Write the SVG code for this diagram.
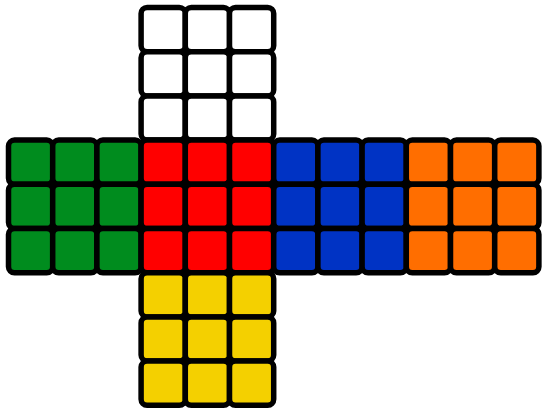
<svg xmlns="http://www.w3.org/2000/svg" width="542" height="410" viewBox="0 0 542 410">
<style>
rect.c{stroke:#000;stroke-width:5.5;}
.w rect{fill:#ffffff}
.g rect{fill:#008c1e}
.r rect{fill:#ff0000}
.b rect{fill:#0033c4}
.o rect{fill:#ff6e00}
.y rect{fill:#f4d000}
</style>
<rect width="542" height="410" fill="#fff"/>
<g id="top" class="w" transform="translate(141.1,7.5)">
<rect class="c" x="0" y="0" width="44.2" height="44.2" rx="6"/><rect class="c" x="44.2" y="0" width="44.2" height="44.2" rx="6"/><rect class="c" x="88.4" y="0" width="44.2" height="44.2" rx="6"/>
<rect class="c" x="0" y="44.2" width="44.2" height="44.2" rx="6"/><rect class="c" x="44.2" y="44.2" width="44.2" height="44.2" rx="6"/><rect class="c" x="88.4" y="44.2" width="44.2" height="44.2" rx="6"/>
<rect class="c" x="0" y="88.4" width="44.2" height="44.2" rx="6"/><rect class="c" x="44.2" y="88.4" width="44.2" height="44.2" rx="6"/><rect class="c" x="88.4" y="88.4" width="44.2" height="44.2" rx="6"/>
</g>
<g id="left" class="g" transform="translate(8.5,140.1)">
<rect class="c" x="0" y="0" width="44.2" height="44.2" rx="6"/><rect class="c" x="44.2" y="0" width="44.2" height="44.2" rx="6"/><rect class="c" x="88.4" y="0" width="44.2" height="44.2" rx="6"/>
<rect class="c" x="0" y="44.2" width="44.2" height="44.2" rx="6"/><rect class="c" x="44.2" y="44.2" width="44.2" height="44.2" rx="6"/><rect class="c" x="88.4" y="44.2" width="44.2" height="44.2" rx="6"/>
<rect class="c" x="0" y="88.4" width="44.2" height="44.2" rx="6"/><rect class="c" x="44.2" y="88.4" width="44.2" height="44.2" rx="6"/><rect class="c" x="88.4" y="88.4" width="44.2" height="44.2" rx="6"/>
</g>
<g id="front" class="r" transform="translate(141.1,140.1)">
<rect class="c" x="0" y="0" width="44.2" height="44.2" rx="6"/><rect class="c" x="44.2" y="0" width="44.2" height="44.2" rx="6"/><rect class="c" x="88.4" y="0" width="44.2" height="44.2" rx="6"/>
<rect class="c" x="0" y="44.2" width="44.2" height="44.2" rx="6"/><rect class="c" x="44.2" y="44.2" width="44.2" height="44.2" rx="6"/><rect class="c" x="88.4" y="44.2" width="44.2" height="44.2" rx="6"/>
<rect class="c" x="0" y="88.4" width="44.2" height="44.2" rx="6"/><rect class="c" x="44.2" y="88.4" width="44.2" height="44.2" rx="6"/><rect class="c" x="88.4" y="88.4" width="44.2" height="44.2" rx="6"/>
</g>
<g id="right" class="b" transform="translate(273.7,140.1)">
<rect class="c" x="0" y="0" width="44.2" height="44.2" rx="6"/><rect class="c" x="44.2" y="0" width="44.2" height="44.2" rx="6"/><rect class="c" x="88.4" y="0" width="44.2" height="44.2" rx="6"/>
<rect class="c" x="0" y="44.2" width="44.2" height="44.2" rx="6"/><rect class="c" x="44.2" y="44.2" width="44.2" height="44.2" rx="6"/><rect class="c" x="88.4" y="44.2" width="44.2" height="44.2" rx="6"/>
<rect class="c" x="0" y="88.4" width="44.2" height="44.2" rx="6"/><rect class="c" x="44.2" y="88.4" width="44.2" height="44.2" rx="6"/><rect class="c" x="88.4" y="88.4" width="44.2" height="44.2" rx="6"/>
</g>
<g id="back" class="o" transform="translate(406.3,140.1)">
<rect class="c" x="0" y="0" width="44.2" height="44.2" rx="6"/><rect class="c" x="44.2" y="0" width="44.2" height="44.2" rx="6"/><rect class="c" x="88.4" y="0" width="44.2" height="44.2" rx="6"/>
<rect class="c" x="0" y="44.2" width="44.2" height="44.2" rx="6"/><rect class="c" x="44.2" y="44.2" width="44.2" height="44.2" rx="6"/><rect class="c" x="88.4" y="44.2" width="44.2" height="44.2" rx="6"/>
<rect class="c" x="0" y="88.4" width="44.2" height="44.2" rx="6"/><rect class="c" x="44.2" y="88.4" width="44.2" height="44.2" rx="6"/><rect class="c" x="88.4" y="88.4" width="44.2" height="44.2" rx="6"/>
</g>
<g id="bottom" class="y" transform="translate(141.1,272.7)">
<rect class="c" x="0" y="0" width="44.2" height="44.2" rx="6"/><rect class="c" x="44.2" y="0" width="44.2" height="44.2" rx="6"/><rect class="c" x="88.4" y="0" width="44.2" height="44.2" rx="6"/>
<rect class="c" x="0" y="44.2" width="44.2" height="44.2" rx="6"/><rect class="c" x="44.2" y="44.2" width="44.2" height="44.2" rx="6"/><rect class="c" x="88.4" y="44.2" width="44.2" height="44.2" rx="6"/>
<rect class="c" x="0" y="88.4" width="44.2" height="44.2" rx="6"/><rect class="c" x="44.2" y="88.4" width="44.2" height="44.2" rx="6"/><rect class="c" x="88.4" y="88.4" width="44.2" height="44.2" rx="6"/>
</g>
<g id="connectors"/>
</svg>
